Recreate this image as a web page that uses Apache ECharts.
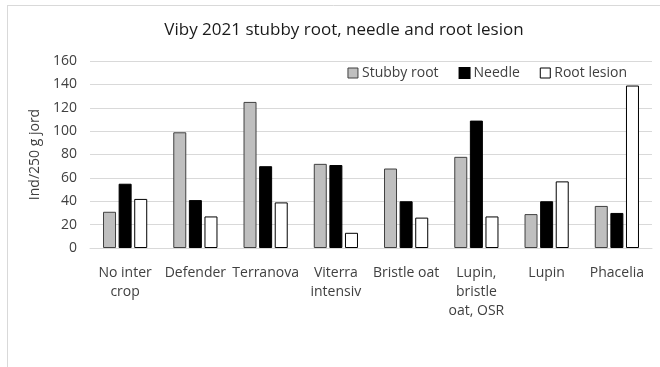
<!DOCTYPE html>
<html>
<head>
<meta charset="utf-8">
<script src="https://cdn.jsdelivr.net/npm/echarts@6/dist/echarts.min.js"></script>
<style>
  html, body { margin: 0; padding: 0; background: #fff; }
  #chart { width: 660px; height: 367px; }
</style>
</head>
<body>
<div id="chart"></div>
<script>
const categories = [
  'No inter\ncrop', 'Defender', 'Terranova', 'Viterra\nintensiv',
  'Bristle oat', 'Lupin,\nbristle\noat, OSR', 'Lupin', 'Phacelia'
];
const stubbyRoot = [31, 99, 125, 72, 68, 78, 29, 36];
const needle = [55, 41, 70, 71, 40, 109, 40, 30];
const rootLesion = [42, 27, 39, 13, 26, 27, 57, 139];
const yTicks = { min: 0, max: 160, interval: 20 };

const font = '"Open Sans", "Noto Sans", sans-serif';
const textColor = '#404040';

const chart = echarts.init(document.getElementById('chart'), null, { renderer: 'canvas' });

const barSeries = (name, data, fill, border) => ({
  name,
  type: 'bar',
  data,
  barWidth: 13,
  barGap: '20%',
  itemStyle: { color: fill, borderColor: border, borderWidth: 1 },
  emphasis: { disabled: true }
});

chart.setOption({
  animation: false,
  backgroundColor: '#fff',
  title: {
    text: 'Viby 2021 stubby root, needle and root lesion',
    left: 339,
    top: 17,
    textAlign: 'center',
    textStyle: { fontFamily: font, fontSize: 17, fontWeight: 'normal', color: '#1a1a1a' }
  },
  legend: {
    right: 28,
    top: 61,
    itemWidth: 10,
    itemHeight: 10,
    itemGap: 20,
    icon: 'rect',
    textStyle: { fontFamily: font, fontSize: 14, color: textColor, padding: [0, 0, 0, -1] },
    data: [
      { name: 'Stubby root', itemStyle: { borderColor: '#404040', borderWidth: 1 } },
      { name: 'Needle' },
      { name: 'Root lesion', itemStyle: { borderColor: '#000', borderWidth: 1 } }
    ]
  },
  grid: { left: 90, right: 8, top: 61, bottom: 119 },
  xAxis: {
    type: 'category',
    data: categories,
    axisLine: { lineStyle: { color: '#d9d9d9' } },
    axisTick: { show: false },
    axisLabel: {
      fontFamily: font,
      fontSize: 14,
      color: textColor,
      lineHeight: 19,
      margin: 16,
      interval: 0
    }
  },
  yAxis: {
    type: 'value',
    min: yTicks.min,
    max: yTicks.max,
    interval: yTicks.interval,
    name: 'Ind/250 g jord',
    nameLocation: 'middle',
    nameGap: 48,
    nameTextStyle: { fontFamily: font, fontSize: 14, color: textColor },
    axisLine: { show: false },
    axisTick: { show: false },
    axisLabel: { fontFamily: font, fontSize: 14, color: textColor, margin: 13 },
    splitLine: { lineStyle: { color: '#d9d9d9' } }
  },
  graphic: [
    { type: 'line', shape: { x1: 7, y1: 5.5, x2: 660, y2: 5.5 }, style: { stroke: '#d9d9d9', lineWidth: 1 } },
    { type: 'line', shape: { x1: 7.5, y1: 5, x2: 7.5, y2: 367 }, style: { stroke: '#d9d9d9', lineWidth: 1 } }
  ],
  series: [
    barSeries('Stubby root', stubbyRoot, '#bfbfbf', '#404040'),
    barSeries('Needle', needle, '#000000', '#000000'),
    barSeries('Root lesion', rootLesion, '#ffffff', '#000000')
  ]
});
</script>
</body>
</html>
